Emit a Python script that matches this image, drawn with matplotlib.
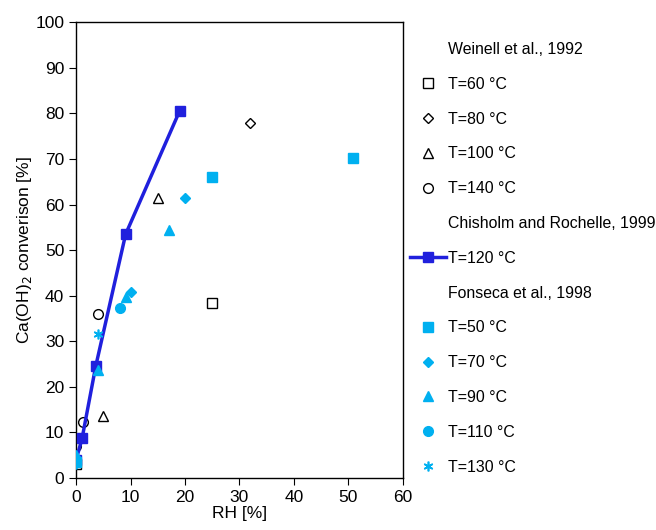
import matplotlib
matplotlib.use('Agg')
import matplotlib.pyplot as plt
from matplotlib.lines import Line2D

plt.rcParams['font.family'] = ['Liberation Sans', 'DejaVu Sans']

cyan = '#00B0F0'
blue = '#2020DD'

# Weinell et al., 1992
w60_x = [0, 25]
w60_y = [3, 38.5]
w80_x = [32]
w80_y = [77.9]
w100_x = [5, 15.1]
w100_y = [13.6, 61.5]
w140_x = [0, 1.2, 4.1]
w140_y = [7, 12.2, 35.9]

# Chisholm and Rochelle, 1999
c120_x = [0, 1.1, 3.6, 9.1, 19]
c120_y = [4, 8.7, 24.5, 53.5, 80.5]

# Fonseca et al., 1998
f50_x = [0, 25, 50.9]
f50_y = [3.5, 66.1, 70.2]
f70_x = [0, 10, 20]
f70_y = [4.5, 40.9, 61.4]
f90_x = [0, 4.1, 9.1, 17]
f90_y = [5, 23.8, 39.8, 54.5]
f110_x = [0, 8.1]
f110_y = [4, 37.3]
f130_x = [0, 4.1]
f130_y = [3, 31.7]

fig = plt.figure(figsize=(6.56, 5.30), dpi=100)
ax = fig.add_axes([0.116, 0.098, 0.498, 0.860])

ms = 7
h60, = ax.plot(w60_x, w60_y, 's', ms=ms, mfc='white', mec='black', mew=1.0, ls='none', label='T=60 °C')
h80, = ax.plot(w80_x, w80_y, 'D', ms=5.5, mfc='white', mec='black', mew=1.0, ls='none', label='T=80 °C')
h100, = ax.plot(w100_x, w100_y, '^', ms=ms, mfc='white', mec='black', mew=1.0, ls='none', label='T=100 °C')
h140, = ax.plot(w140_x, w140_y, 'o', ms=ms, mfc='white', mec='black', mew=1.0, ls='none', label='T=140 °C')

hc, = ax.plot(c120_x, c120_y, '-s', color=blue, lw=2.5, ms=ms, mfc=blue, mec=blue, label='T=120 °C', zorder=3)

h50, = ax.plot(f50_x, f50_y, 's', ms=ms, color=cyan, ls='none', label='T=50 °C', zorder=4)
h70, = ax.plot(f70_x, f70_y, 'D', ms=5.5, color=cyan, ls='none', label='T=70 °C', zorder=4)
h90, = ax.plot(f90_x, f90_y, '^', ms=ms, color=cyan, ls='none', label='T=90 °C', zorder=4)
h110, = ax.plot(f110_x, f110_y, 'o', ms=ms, color=cyan, ls='none', label='T=110 °C', zorder=4)
h130, = ax.plot(f130_x, f130_y, marker=(6, 2, 0), ms=ms, color=cyan, mew=1.2, ls='none', label='T=130 °C', zorder=4)

blank = Line2D([], [], ls='none', marker='none')
handles = [blank, h60, h80, h100, h140, blank, hc, blank, h50, h70, h90, h110, h130]
labels = ['Weinell et al., 1992', 'T=60 °C', 'T=80 °C', 'T=100 °C', 'T=140 °C',
          'Chisholm and Rochelle, 1999', 'T=120 °C', 'Fonseca et al., 1998',
          'T=50 °C', 'T=70 °C', 'T=90 °C', 'T=110 °C', 'T=130 °C']
fig.legend(handles, labels, loc='upper left', bbox_to_anchor=(0.615, 0.9325),
           frameon=False, fontsize=11.4, handlelength=2.3, handletextpad=0.1,
           labelspacing=1.25, borderaxespad=0)

ax.set_xlim(0, 60)
ax.set_ylim(0, 100)
ax.set_xticks(range(0, 61, 10))
ax.set_yticks(range(0, 101, 10))
ax.tick_params(direction='out', length=5, labelsize=12.5)
ax.set_xlabel('RH [%]', fontsize=12.5, labelpad=1)
ax.set_ylabel('Ca(OH)$_2$ converison [%]', fontsize=12.5, labelpad=1)
for s in ax.spines.values():
    s.set_linewidth(1.0)

fig.savefig('out.png', dpi=100)
